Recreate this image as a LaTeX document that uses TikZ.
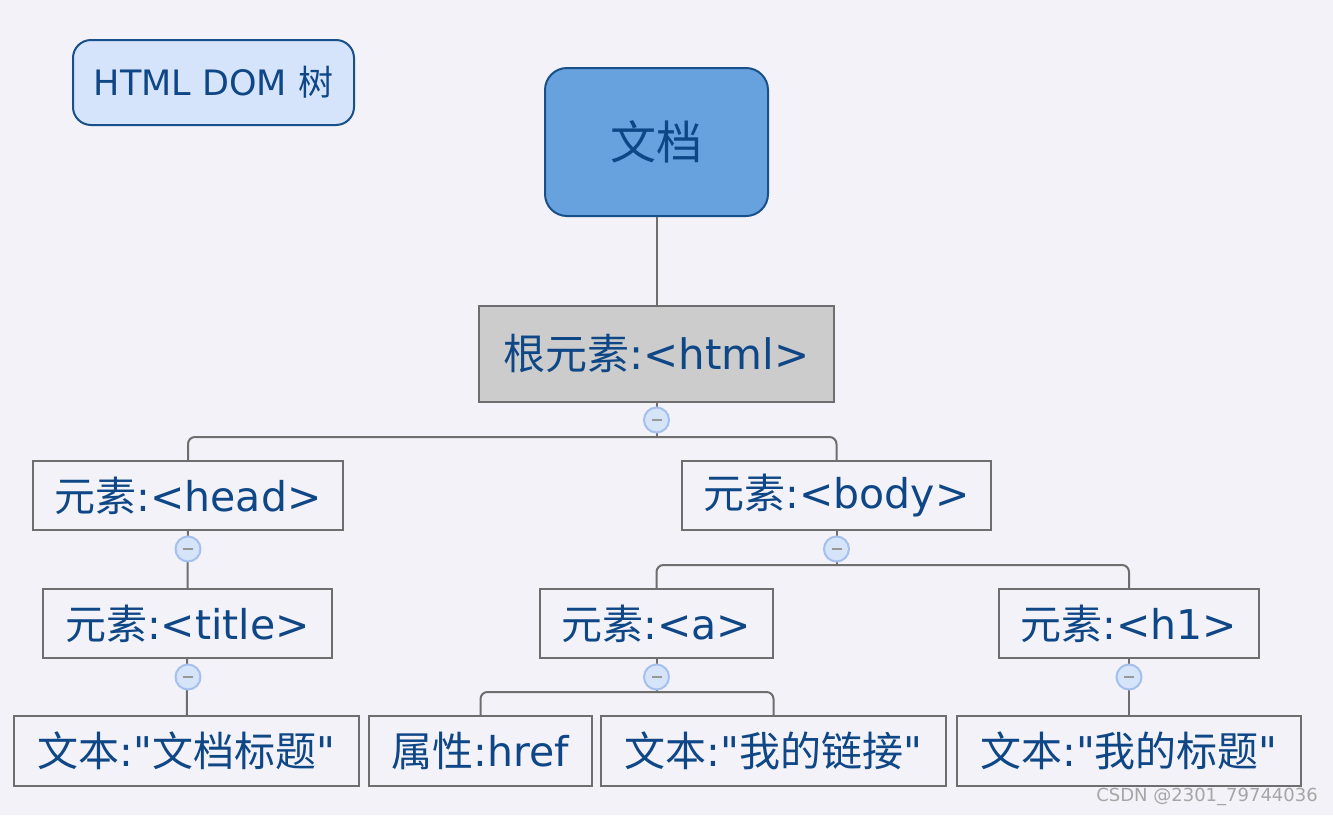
\documentclass[tikz,border=0pt]{standalone}
\usepackage{fontspec}
\setmainfont{DejaVu Sans}[Ligatures=TeXOff]
\newfontfamily\cjk{Noto Sans CJK SC}
\definecolor{bgcol}{RGB}{242,242,248}
\definecolor{txtblue}{RGB}{14,70,134}
\definecolor{boxgray}{RGB}{110,110,110}
\definecolor{docblue}{RGB}{103,162,223}
\definecolor{docedge}{RGB}{24,80,138}
\definecolor{tagblue}{RGB}{214,228,251}
\definecolor{foldfill}{RGB}{214,228,250}
\definecolor{foldedge}{RGB}{165,192,236}

\begin{document}
\begin{tikzpicture}[x=1pt,y=-1pt,
  every node/.style={text=txtblue,inner sep=0pt},
  elem/.style={draw=boxgray,line width=2pt,fill=bgcol,minimum height=69pt,font=\fontsize{41}{41}\selectfont},
  leaf/.style={elem,minimum height=70pt},
  rootbox/.style={elem,fill=black!20,minimum height=96pt,font=\fontsize{42}{42}\selectfont},
  docbox/.style={draw=docedge,line width=2pt,fill=docblue,rounded corners=22pt,minimum width=223pt,minimum height=148pt,font=\fontsize{46}{46}\selectfont},
  tagbox/.style={draw=docedge,line width=2pt,fill=tagblue,rounded corners=18pt,minimum width=281pt,minimum height=85pt,font=\fontsize{35}{35}\selectfont},
  fold/.style={circle,draw=foldedge,line width=2pt,fill=foldfill,minimum size=25pt,
    path picture={\draw[black!40,line width=2pt]
      ([xshift=-5pt]path picture bounding box.center) -- ([xshift=5pt]path picture bounding box.center);}},
  link/.style={draw=boxgray,line width=2pt,rounded corners=7pt}]
  \fill[bgcol] (0,0) rectangle (1333,815);
  \useasboundingbox (0,0) rectangle (1333,815);

  % title tag and document
  \node[tagbox] (dom) at (213.5,82.5) {HTML DOM {\cjk 树}};
  \node[docbox] (doc) at (656.5,142) {\cjk 文档};

  % tree nodes
  \node[rootbox,minimum width=355pt] (html) at (656.5,354) {{\cjk 根元素}:<html>};
  \node[elem,minimum width=310pt] (head) at (188,495.5) {{\cjk 元素}:<head>};
  \node[elem,minimum width=309pt] (body) at (836.5,495.5) {{\cjk 元素}:<body>};
  \node[elem,minimum width=289pt] (title) at (187.5,623.5) {{\cjk 元素}:<title>};
  \node[elem,minimum width=233pt] (a) at (656.5,623.5) {{\cjk 元素}:<a>};
  \node[elem,minimum width=260pt] (h1) at (1129,623.5) {{\cjk 元素}:<h1>};
  \node[leaf,minimum width=345pt] (ttext) at (186.5,751) {{\cjk 文本}:"{\cjk 文档标题}"};
  \node[leaf,minimum width=223pt] (href) at (480.5,751) {{\cjk 属性}:href};
  \node[leaf,minimum width=345pt] (atext) at (773.5,751) {{\cjk 文本}:"{\cjk 我的链接}"};
  \node[leaf,minimum width=344pt] (htext) at (1129,751) {{\cjk 文本}:"{\cjk 我的标题}"};

  % fold markers and bus points
  \coordinate (bus1) at (656.5,437);
  \coordinate (bus2) at (836.5,565);
  \coordinate (bus3) at (656.5,692);

  \draw[link] (doc) -- (html);
  \draw[link] (html) -- (bus1);
  \draw[link] (head.north) |- (bus1) -| (body.north);
  \draw[link] (head) -- (title);
  \draw[link] (title) -- (ttext);
  \draw[link] (body) -- (bus2);
  \draw[link] (a.north) |- (bus2) -| (h1.north);
  \draw[link] (a) -- (bus3);
  \draw[link] (href.north) |- (bus3) -| (atext.north);
  \draw[link] (h1) -- (htext);

  \node[fold] (f1) at (656.5,420) {};
  \node[fold] (f2) at (188,549) {};
  \node[fold] (f3) at (836.5,549) {};
  \node[fold] (f4) at (188,677) {};
  \node[fold] (f5) at (656.5,677) {};
  \node[fold] (f6) at (1129,677) {};

  \node[text=black!35,font=\fontsize{18}{18}\selectfont,anchor=east] (mark) at (1318,797) {CSDN @2301\_79744036};
\end{tikzpicture}
\end{document}
